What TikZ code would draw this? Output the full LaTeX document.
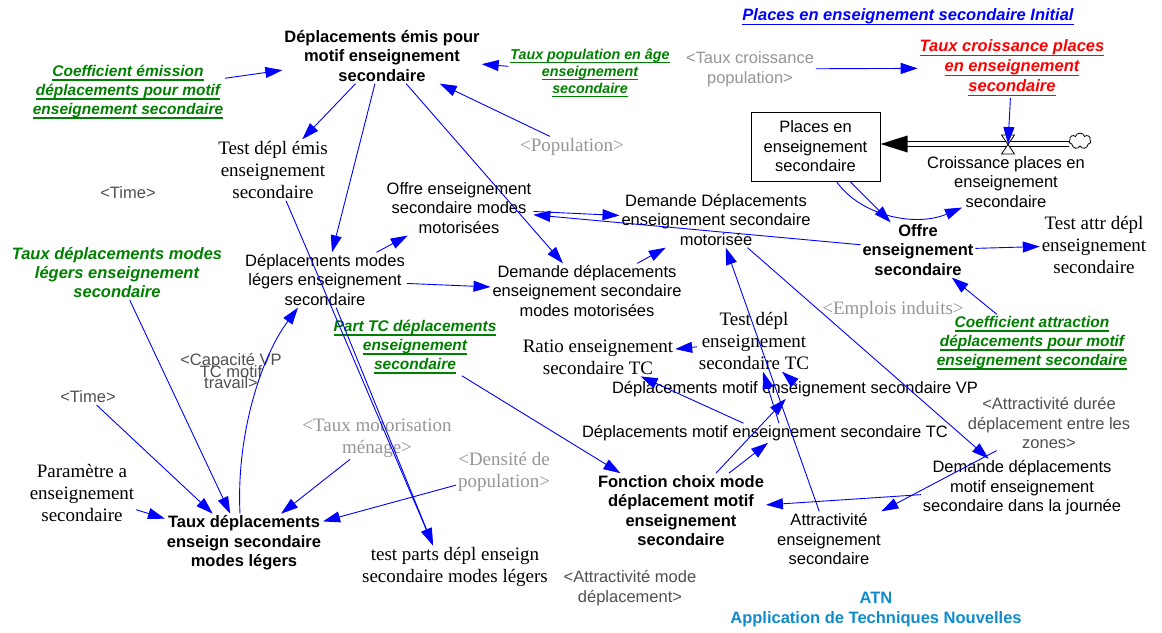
\documentclass[tikz,border=0pt]{standalone}
\usepackage{fontspec}
\setmainfont{Liberation Sans}
\newfontfamily\tnr{Liberation Serif}
\usetikzlibrary{arrows.meta,calc,shapes.symbols}

\definecolor{vblue}{RGB}{0,0,255}
\definecolor{vgreen}{RGB}{0,128,0}
\definecolor{vred}{RGB}{255,0,0}
\definecolor{lgray}{RGB}{150,150,150}
\definecolor{dgray}{RGB}{80,80,80}
\definecolor{atnblue}{RGB}{16,140,204}

% thick underline in the text colour
\newsavebox\vulbox
\newcommand\vul[1]{\leavevmode\sbox\vulbox{#1}\rlap{\rule[-4.2pt]{\wd\vulbox}{1.5pt}}\usebox\vulbox}
% lines set closer than their glyphs allow
\newcommand\tightlines{\lineskiplimit=-50pt\relax\lineskip=0pt\relax}

\tikzset{
  vbase/.style={align=center, inner sep=2pt, outer sep=0pt},
  sans/.style={vbase, font=\fontsize{16.5}{19.5}\selectfont},
  bsans/.style={vbase, font=\fontsize{16.5}{19.5}\selectfont\bfseries},
  serif/.style={vbase, font=\tnr\fontsize{19}{22}\selectfont},
  gserif/.style={serif, text=lgray},
  lsans/.style={sans, text=lgray},
  dsans/.style={sans, text=dgray},
  tight/.style={font=\fontsize{16.5}{11.5}\selectfont\tightlines},
  grn/.style={vbase, text=vgreen, font=\fontsize{15.5}{19}\selectfont\bfseries\itshape},
  grnsmall/.style={vbase, text=vgreen, font=\fontsize{14.3}{17}\selectfont\bfseries\itshape},
  grnbig/.style={vbase, text=vgreen, font=\fontsize{16.5}{19}\selectfont\bfseries\itshape},
  redlab/.style={vbase, text=vred, font=\fontsize{16.5}{20}\selectfont\bfseries\itshape},
  vtitle/.style={vbase, text=vblue, font=\fontsize{16.5}{20}\selectfont\bfseries\itshape},
  atn/.style={vbase, text=atnblue, font=\fontsize{16.5}{20}\selectfont\bfseries},
  stockbox/.style={draw, line width=1pt, minimum width=129pt, minimum height=69pt,
    align=center, inner sep=2pt, font=\fontsize{16.5}{19.5}\selectfont},
  link/.style={draw=vblue, line width=0.9pt, -{Triangle[length=17pt,width=11pt]}},
}

\begin{document}
\begin{tikzpicture}[x=1pt,y=-1pt]
\fill[white] (0,0) rectangle (1162,632);
\useasboundingbox (0,0) rectangle (1162,632);

% ---------- variables ----------
\node[vtitle] (pinit) at (908,17) {\vul{Places en enseignement secondaire Initial}};
\node[bsans] (dem) at (382,56) {Déplacements émis pour\\motif enseignement\\secondaire};
\node[grn] (cem) at (128,92) {\vul{Coefficient émission}\\\vul{déplacements pour motif}\\\vul{enseignement secondaire}};
\node[grnsmall] (tpa) at (590,73) {\vul{Taux population en âge}\\\vul{enseignement}\\\vul{secondaire}};
\node[lsans] (tcpop) at (750,69) {<Taux croissance\\population>};
\node[redlab] (tcpl) at (1012,68) {\vul{Taux croissance places}\\\vul{en enseignement}\\\vul{secondaire}};

\node[stockbox] (pl) at (815.5,146.5) {Places en\\enseignement\\secondaire};
\node[cloud, draw, line width=0.8pt, cloud puffs=7, aspect=1.3, minimum width=22pt,
  minimum height=16pt, inner sep=0pt] (cl) at (1080,141) {};
\coordinate (vl) at (1008,144);
\node[sans] (crp) at (1006,182) {Croissance places en\\enseignement\\secondaire};

\node[gserif] (pop) at (572,147) {<Population>};
\node[serif] (tde) at (273,170) {Test dépl émis\\enseignement\\secondaire};
\node[dsans] (time1) at (128,193) {<Time>};
\node[sans] (oem) at (459,208) {Offre enseignement\\secondaire modes\\motorisées};
\node[sans] (ddm) at (716,220) {Demande Déplacements\\enseignement secondaire\\motorisée};
\node[bsans] (oes) at (918,250) {Offre\\enseignement\\secondaire};
\node[serif] (tad) at (1094,245) {Test attr dépl\\enseignement\\secondaire};
\node[sans] (dml) at (325,280) {Déplacements modes\\légers enseignement\\secondaire};
\node[sans] (ddmm) at (587,291) {Demande déplacements\\enseignement secondaire\\modes motorisées};
\node[grnbig] (tdml) at (117,273) {Taux déplacements modes\\légers enseignement\\secondaire};
\node[grn] (ptc) at (415,347) {\vul{Part TC déplacements}\\\vul{enseignement}\\\vul{secondaire}};
\node[gserif] (emp) at (893,310) {<Emplois induits>};
\node[grn] (cat) at (1032,343) {\vul{Coefficient attraction}\\\vul{déplacements pour motif}\\\vul{enseignement secondaire}};
\node[serif] (rat) at (598,357) {Ratio enseignement\\secondaire TC};
\node[serif] (tdtc) at (754,341) {Test dépl\\enseignement\\secondaire TC};
\node[sans] (dvp) at (795,389) {Déplacements motif enseignement secondaire VP};
\node[dsans, tight] (cap) at (231,371) {<Capacité VP\\TC motif\\travail>};
\node[dsans] (time2) at (88,397) {<Time>};
\node[gserif] (tmm) at (377,438) {<Taux motorisation\\ménage>};
\node[dsans] (adz) at (1049,423) {<Attractivité durée\\déplacement entre les\\zones>};
\node[sans] (dtc) at (765,433) {Déplacements motif enseignement secondaire TC};
\node[serif] (par) at (82,493) {Paramètre a\\enseignement\\secondaire};
\node[gserif] (den) at (504,472) {<Densité de\\population>};
\node[sans] (ddj) at (1022,488) {Demande déplacements\\motif enseignement\\secondaire dans la journée};
\node[bsans] (fcm) at (681,510.5) {Fonction choix mode\\déplacement motif\\enseignement\\secondaire};
\node[bsans] (tds) at (244,543) {Taux déplacements\\enseign secondaire\\modes légers};
\node[sans] (att) at (829,539) {Attractivité\\enseignement\\secondaire};
\node[serif] (tpl) at (455,567) {test parts dépl enseign\\secondaire modes légers};
\node[dsans] (amd) at (630,588) {<Attractivité mode\\déplacement>};
\node[atn] (atnl) at (876,610) {ATN\\Application de Techniques Nouvelles};

% ---------- stock and flow ----------
\draw[line width=0.8pt] ($(pl.east)+(26,-5)$) -- ($(pl.east -| cl.west)+(0,-5)$);
\draw[line width=0.8pt] ($(pl.east)+(26,0)$) -- ($(pl.east -| cl.west)+(0,0)$);
\fill[black] ($(pl.east)+(0,-2.5)$) -- ++(27,-8.5) -- ++(0,17) -- cycle;
\draw[fill=white, line width=0.8pt] ($(vl)+(-6.5,-9)$) -- ($(vl)+(6.5,-9)$)
  -- ($(vl)+(-6.5,10)$) -- ($(vl)+(6.5,10)$) -- cycle;
\draw[link] (tcpl) -- (vl);

% ---------- causal links ----------
\draw[link] (cem) -- (dem);
\draw[link] (tpa) -- (dem);
\draw[link] (pop) -- (dem);
\draw[link] (tcpop) -- (tcpl);
\draw[link] (dem) -- (tde);
\draw[link] (dem) -- (dml);
\draw[link] (dem) -- (ddmm);
\draw[link] (tde) -- ($(tpl.north)+(-22,0)$);
\draw[link] (dml) -- ($(tpl.north)+(-22,0)$);
\draw[link] (dml) -- (oem);
\draw[link] (dml) -- (ddmm);
\draw[link] (ddmm) -- (ddm);
\draw[link] (oem) -- (ddm);
\draw[link] (oes) -- (oem);
\draw[link] (pl) -- (oes);
\draw[link] ($(pl.south)+(21,0)$) .. controls ($(pl.south)+(44.5,34)$) and ($(crp.south)+(-91,18)$) .. ($(crp.south)+(-44,-2)$);
\draw[link] (oes) -- (tad);
\draw[link] (cat) -- (oes);
\draw[link] (ddm) -- (ddj);
\draw[link] (adz) -- (att);
\draw[link] (ddj) -- (fcm);
\draw[link] (att) -- (ddm);
\draw[link] (fcm) -- ($(dtc.south)+(3,0)$);
\draw[link] (fcm) -- (dvp);
\draw[link] (dtc) -- (rat);
\draw[link] ($(dtc.north)+(14,0)$) -- ($(tdtc.south)+(9,0)$);
\draw[link] ($(dvp.center)+(2,-4)$) -- ($(tdtc.south)+(28,0)$);
\draw[link] (tdtc) -- (rat);
\draw[link] (ptc) -- (fcm);
\draw[link] (tdml) -- (tds);
\draw[link] (time2) -- (tds);
\draw[link] (par) -- (tds);
\draw[link] (tmm) -- (tds);
\draw[link] (den) -- (tds);
\draw[link] ($(tds.north)+(-4,0)$) .. controls ($(tds.north)+(-8,-81)$) and ($(dml.south)+(-63,48)$) .. ($(dml.south)+(-27,0)$);
\end{tikzpicture}
\end{document}
